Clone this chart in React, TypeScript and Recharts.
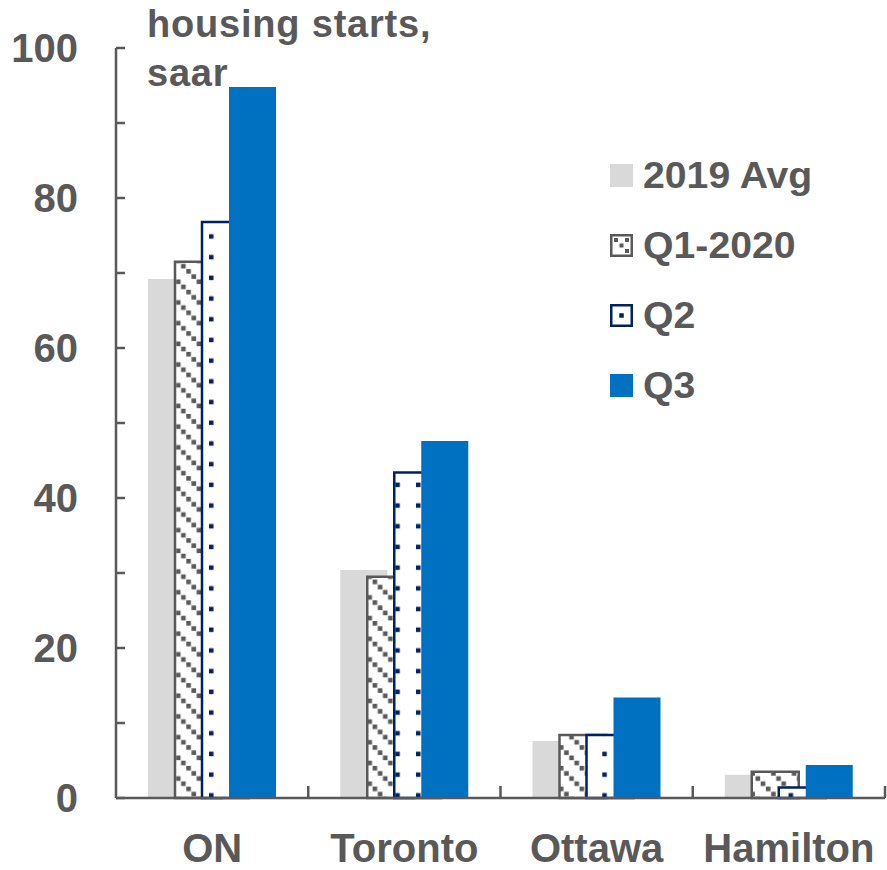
import React from 'react';
import { BarChart, Bar, XAxis, YAxis, Legend } from 'recharts';

const categories = ['ON', 'Toronto', 'Ottawa', 'Hamilton'];
const avg2019 = [69.2, 30.4, 7.6, 3.1];
const q1_2020 = [71.5, 29.5, 8.4, 3.5];
const q2 = [76.8, 43.4, 8.4, 1.4];
const q3 = [94.8, 47.6, 13.4, 4.4];
const yTicks = [0, 10, 20, 30, 40, 50, 60, 70, 80, 90, 100];
const seriesNames = ['2019 Avg', 'Q1-2020', 'Q2', 'Q3'];

const data = categories.map((c, i) => ({
  name: c,
  avg2019: avg2019[i],
  q1: q1_2020[i],
  q2: q2[i],
  q3: q3[i],
}));

const FONT = '"Liberation Sans", Arial, sans-serif';
const GREY = '#595959';
const NAVY = '#002060';
const BLUE = '#0070c0';
const LIGHT = '#d9d9d9';

const YTick = (props: any) => {
  const { x, y, payload } = props;
  const v = payload.value;
  return (
    <g>
      <line x1={x} x2={x + 9} y1={y} y2={y} stroke={GREY} strokeWidth={2.5} />
      {v % 20 === 0 && (
        <text x={x - 38} y={y} dy="0.36em" textAnchor="end" fontFamily={FONT} fontWeight={700} fontSize={40} fill={GREY}>
          {v}
        </text>
      )}
    </g>
  );
};

const XTick = (props: any) => {
  const { x, y, payload } = props;
  const off = payload.offset || 0;
  return (
    <g>
      <line x1={x + off} x2={x + off} y1={y} y2={y - 12} stroke={GREY} strokeWidth={2.5} />
      <text x={x} y={y + 64} textAnchor="middle" fontFamily={FONT} fontWeight={700} fontSize={40} fill={GREY}>
        {payload.value}
      </text>
    </g>
  );
};

const Swatch = ({ i }: { i: number }) => {
  if (i === 0) return <svg width={23} height={23}><rect x={0} y={0} width={23} height={23} fill={LIGHT} /></svg>;
  if (i === 1)
    return (
      <svg width={23} height={23}>
        <rect x={1.25} y={1.25} width={20.5} height={20.5} fill="#fff" stroke={GREY} strokeWidth={2.5} />
        <rect x={4} y={4} width={4} height={4} fill={GREY} />
        <rect x={9.5} y={9.5} width={4} height={4} fill={GREY} />
        <rect x={15} y={15} width={4} height={4} fill={GREY} />
        <rect x={15} y={4} width={4} height={4} fill={GREY} />
      </svg>
    );
  if (i === 2)
    return (
      <svg width={23} height={23}>
        <rect x={1.25} y={1.25} width={20.5} height={20.5} fill="#fff" stroke={NAVY} strokeWidth={2.5} />
        <rect x={9.25} y={9.25} width={4.5} height={4.5} fill={NAVY} />
      </svg>
    );
  return <svg width={23} height={23}><rect x={0} y={0} width={23} height={23} fill={BLUE} /></svg>;
};

const LegendContent = () => (
  <div style={{ fontFamily: FONT, fontWeight: 700, color: GREY }}>
    {seriesNames.map((n, i) => (
      <div key={n} style={{ height: 70, display: 'flex', alignItems: 'center' }}>
        <Swatch i={i} />
        <span
          style={{
            marginLeft: 10,
            fontSize: 37,
            lineHeight: '37px',
            display: 'inline-block',
            transform: 'scaleX(1.06)',
            transformOrigin: 'left center',
            whiteSpace: 'nowrap',
          }}
        >
          {n}
        </span>
      </div>
    ))}
  </div>
);

export default function App() {
  return (
    <div style={{ position: 'absolute', left: 0, top: 0, width: 887, height: 870, background: '#fff' }}>
      <svg width={0} height={0} style={{ position: 'absolute' }}>
        <defs>
          <pattern id="hatchQ1" patternUnits="userSpaceOnUse" width={20.7} height={20.7} x={0} y={0}>
            <rect x={0} y={0} width={20.7} height={20.7} fill="#fff" />
            <rect x={0} y={0} width={4.6} height={4.6} fill={GREY} />
            <rect x={5.2} y={5.2} width={4.6} height={4.6} fill={GREY} />
            <rect x={10.35} y={10.35} width={4.6} height={4.6} fill={GREY} />
            <rect x={15.5} y={15.5} width={4.6} height={4.6} fill={GREY} />
          </pattern>
          <pattern id="dotQ2" patternUnits="userSpaceOnUse" width={20.7} height={20.7} x={0} y={0}>
            <rect x={0} y={0} width={20.7} height={20.7} fill="#fff" />
            <rect x={2} y={6.5} width={4.5} height={4.5} fill={NAVY} />
          </pattern>
        </defs>
      </svg>
      <BarChart
        width={887}
        height={870}
        data={data}
        margin={{ top: 48, right: 2, left: 0, bottom: 42 }}
        barSize={47}
        barGap={-20}
        barCategoryGap={0}
      >
        <XAxis
          dataKey="name"
          height={30}
          axisLine={{ stroke: GREY, strokeWidth: 2.5 }}
          tickLine={false}
          tickSize={0}
          tickMargin={0}
          tick={<XTick />}
          interval={0}
        />
        <YAxis
          domain={[0, 100]}
          ticks={yTicks}
          interval={0}
          width={116}
          axisLine={{ stroke: GREY, strokeWidth: 2.5 }}
          tickLine={false}
          tickSize={0}
          tickMargin={0}
          tick={<YTick />}
        />
        <Legend
          layout="vertical"
          align="center"
          verticalAlign="middle"
          content={<LegendContent />}
          wrapperStyle={{ left: 610, top: 140, width: 270 }}
        />
        <Bar dataKey="avg2019" name="2019 Avg" fill={LIGHT} isAnimationActive={false} />
        <Bar dataKey="q1" name="Q1-2020" fill="url(#hatchQ1)" stroke={GREY} strokeWidth={2.5} isAnimationActive={false} />
        <Bar dataKey="q2" name="Q2" fill="url(#dotQ2)" stroke={NAVY} strokeWidth={2.5} isAnimationActive={false} />
        <Bar dataKey="q3" name="Q3" fill={BLUE} isAnimationActive={false} />
      </BarChart>
      <svg width={887} height={100} style={{ position: 'absolute', left: 0, top: 0, pointerEvents: 'none' }}>
        <text x={147} y={37} fontFamily={FONT} fontWeight={700} fontSize={38} letterSpacing={0.8} fill={GREY}>
          housing starts,
        </text>
        <text x={147} y={86} fontFamily={FONT} fontWeight={700} fontSize={38} letterSpacing={0.8} fill={GREY}>
          saar
        </text>
      </svg>
    </div>
  );
}
